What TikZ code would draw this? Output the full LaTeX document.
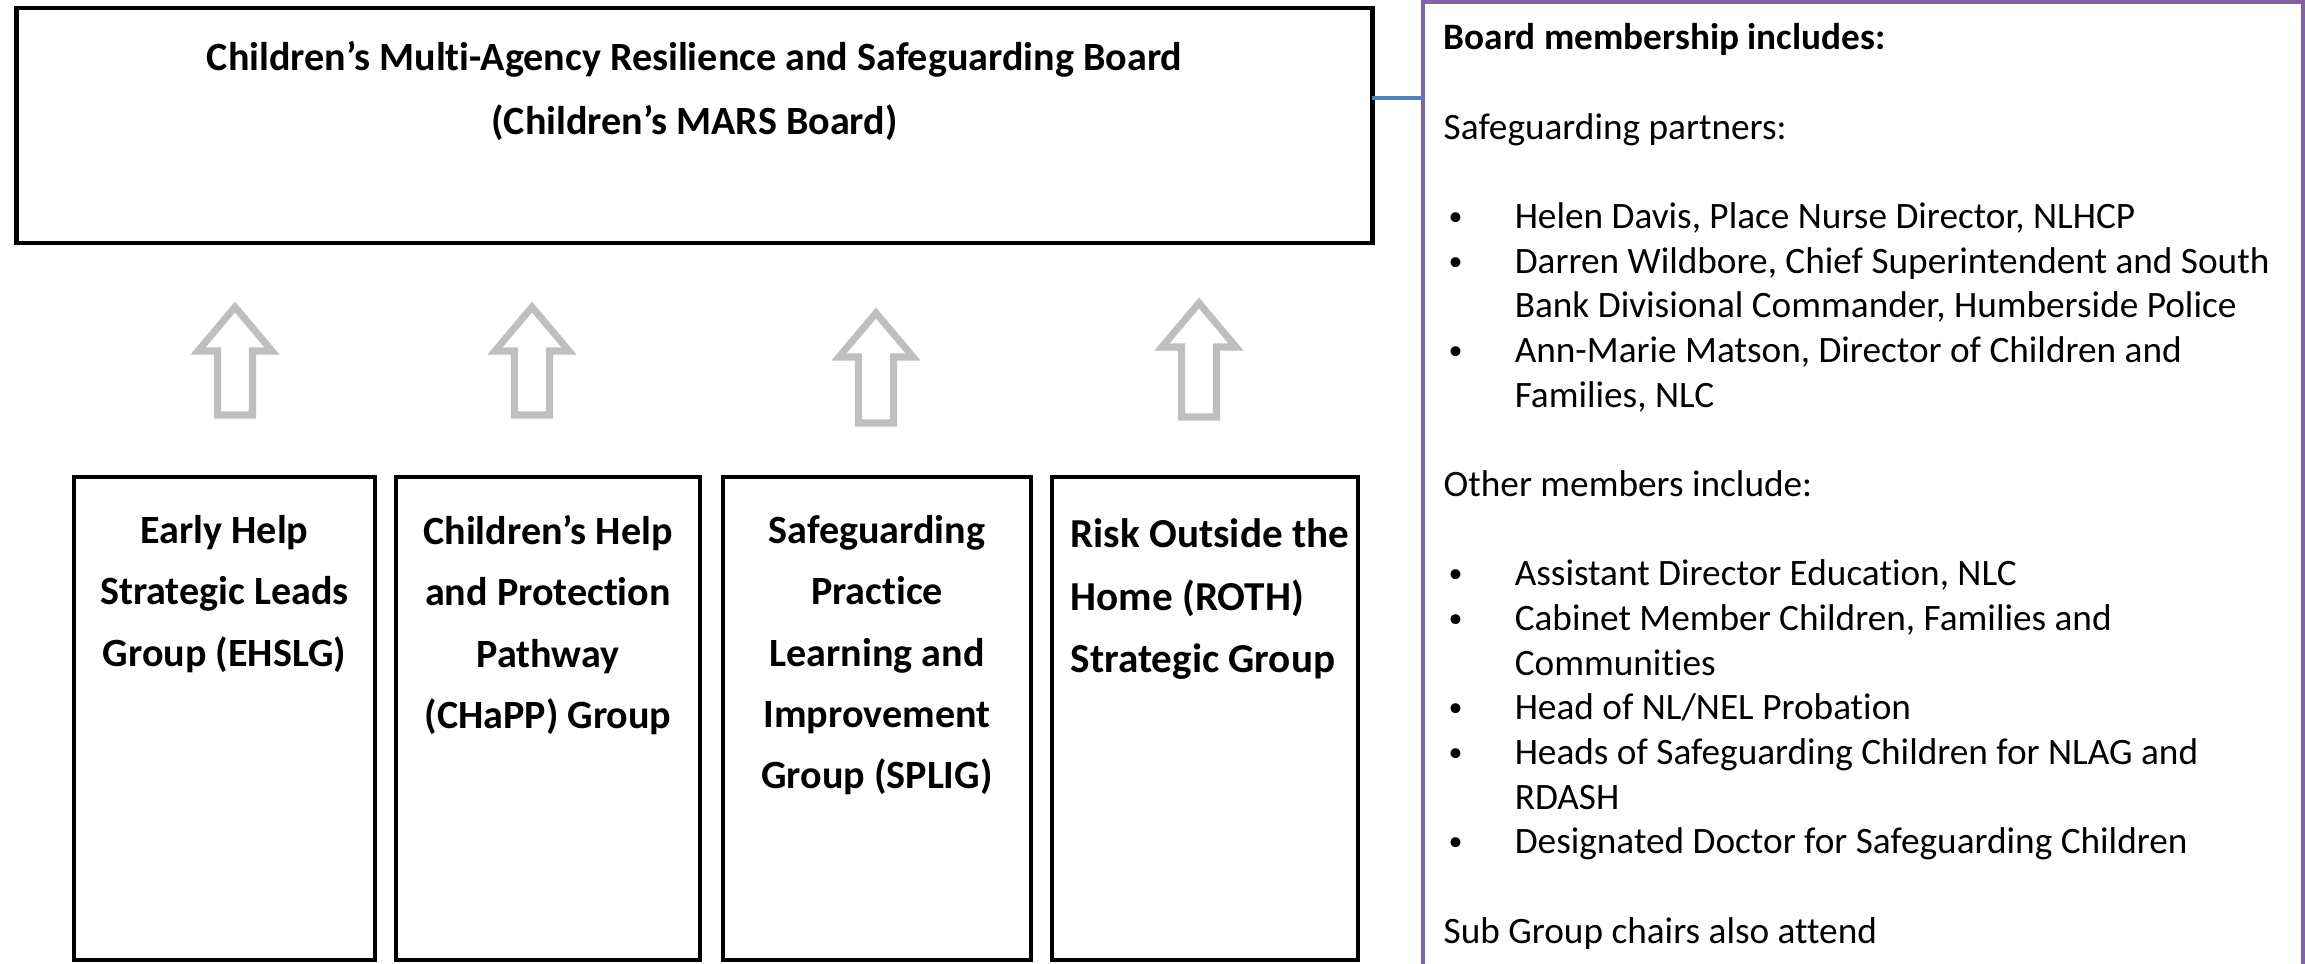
\documentclass[tikz,border=0pt]{standalone}
\usepackage{fontspec}
\usepackage{graphicx}
\setmainfont{Carlito}[Ligatures=NoCommon]
\usetikzlibrary{positioning}
\definecolor{CPurple}{HTML}{8064A2}
\definecolor{CBlue}{HTML}{4F81BD}
\definecolor{CArrow}{HTML}{BFBFBF}

% bullet and hanging indent for the membership list
\newcommand{\bul}{\makebox[0.71cm][l]{\hspace{0.05cm}\raisebox{0.08em}{\scalebox{0.75}{\textbullet}}}}
\newcommand{\cont}{\hspace*{0.71cm}}

\begin{document}
\begin{tikzpicture}[x=0.01cm, y=-0.01cm,
    boardbox/.style={draw=black, line width=1.3pt, outer sep=0pt, inner sep=0pt},
    groupbox/.style={draw=black, line width=1.3pt, outer sep=0pt, inner sep=0pt, minimum height=4.83cm},
    titletext/.style={inner sep=0pt, align=center, font=\fontsize{11.4pt}{18.2pt}\selectfont\bfseries},
    grouptext/.style={inner sep=0pt, align=center, font=\fontsize{11.4pt}{17.4pt}\selectfont\bfseries},
    rothtext/.style={inner sep=0pt, align=left, font=\fontsize{11.7pt}{17.8pt}\selectfont\bfseries},
    memberframe/.style={draw=CPurple, line width=1.2pt, outer sep=0pt, inner sep=0pt},
    memberlist/.style={inner sep=0pt, align=left, font=\fontsize{10.6pt}{12.7pt}\selectfont},
    uparrow/.style={draw=CArrow, line width=2pt, fill=white, line join=miter},
    link/.style={draw=CBlue, line width=1.2pt}]

    \useasboundingbox (0,0) rectangle (2305,964);

    % Board
    \node[boardbox, minimum width=13.55cm, minimum height=2.35cm] (board) at (694.5,125.5) {};
    \node[titletext, below=0.33cm of board.north] (title)
        {Children’s Multi-Agency Resilience and Safeguarding Board\\(Children’s MARS Board)};

    % Sub groups
    \node[groupbox, minimum width=3.01cm] (ehslg) at (224.5,718.5) {};
    \node[groupbox, minimum width=3.04cm] (chapp) at (548,718.5) {};
    \node[groupbox, minimum width=3.08cm] (splig) at (877,718.5) {};
    \node[groupbox, minimum width=3.06cm] (roth) at (1205,718.5) {};

    \node[grouptext, below=0.38cm of ehslg.north] (ehslgtext)
        {Early Help\\Strategic Leads\\Group (EHSLG)};
    \node[grouptext, below=0.38cm of chapp.north] (chapptext)
        {Children’s Help\\and Protection\\Pathway\\(CHaPP) Group};
    \node[grouptext, below=0.38cm of splig.north] (spligtext)
        {Safeguarding\\Practice\\Learning and\\Improvement\\Group (SPLIG)};
    \node[rothtext, below right=0.41cm and 0.18cm of roth.north west] (rothtext)
        {Risk Outside the\\Home (ROTH)\\Strategic Group};

    % Hollow arrows up to the board
    \foreach \cx/\ty/\by in {235/307/415, 532/307/415, 876/313/423, 1199/303/417}
        \draw[uparrow] (\cx,\ty) -- (\cx+37,\ty+44) -- (\cx+17.5,\ty+44) -- (\cx+17.5,\by)
            -- (\cx-17.5,\by) -- (\cx-17.5,\ty+44) -- (\cx-37,\ty+44) -- cycle;

    % Membership panel (runs off the page)
    \begin{scope}
        \clip (0,0) rectangle (2305,964);
        \node[memberframe, anchor=north west, minimum width=8.8cm, minimum height=10cm] (members) at (1423,2) {};
    \end{scope}

    \coordinate (joint) at (0,98);
    \draw[link] (board.east |- joint) -- (members.west |- joint);

    \node[memberlist, below right=0.21cm and 0.20cm of members.north west] (memberlist)
        {\textbf{Board membership includes:}\\
         \mbox{}\\
         Safeguarding partners:\\
         \mbox{}\\
         \bul Helen Davis, Place Nurse Director, NLHCP\\
         \bul Darren Wildbore, Chief Superintendent and South\\
         \cont Bank Divisional Commander, Humberside Police\\
         \bul Ann-Marie Matson, Director of Children and\\
         \cont Families, NLC\\
         \mbox{}\\
         Other members include:\\
         \mbox{}\\
         \bul Assistant Director Education, NLC\\
         \bul Cabinet Member Children, Families and\\
         \cont Communities\\
         \bul Head of NL/NEL Probation\\
         \bul Heads of Safeguarding Children for NLAG and\\
         \cont RDASH\\
         \bul Designated Doctor for Safeguarding Children\\
         \mbox{}\\
         Sub Group chairs also attend};

\end{tikzpicture}
\end{document}
